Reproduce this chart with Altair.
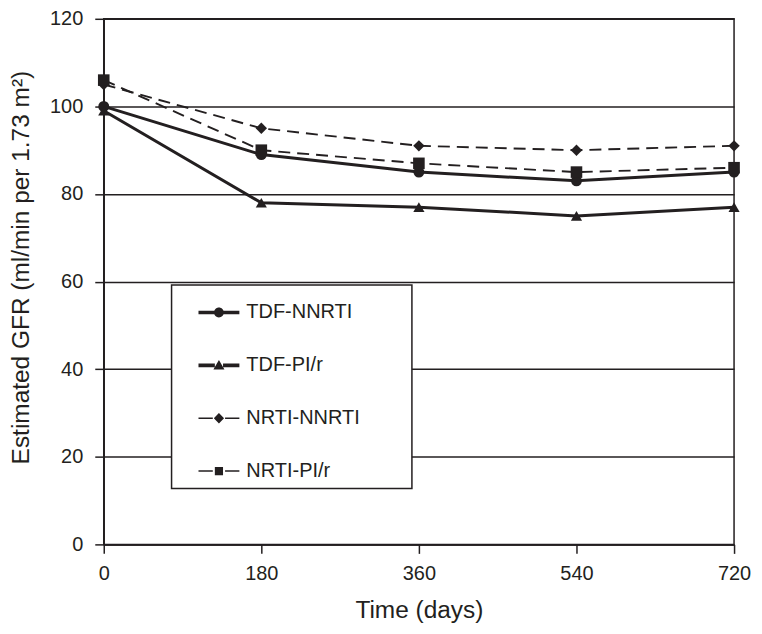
import altair as alt
import pandas as pd

days = [0, 180, 360, 540, 720]
series_names = ["TDF-NNRTI", "TDF-PI/r", "NRTI-NNRTI", "NRTI-PI/r"]
tdf_nnrti = [100, 89, 85, 83, 85]
tdf_pir = [99, 78, 77, 75, 77]
nrti_nnrti = [105, 95, 91, 90, 91]
nrti_pir = [106, 90, 87, 85, 86]

values = [tdf_nnrti, tdf_pir, nrti_nnrti, nrti_pir]
rows = []
for name, vals in zip(series_names, values):
    for d, v in zip(days, vals):
        rows.append({"day": d, "gfr": v, "series": name})
df = pd.DataFrame(rows)

FONT = "Liberation Sans"
INK = "#231f20"

x = alt.X("day:Q", scale=alt.Scale(domain=[0, 720], nice=False),
          axis=alt.Axis(values=days, title="Time (days)", grid=False))
y = alt.Y("gfr:Q", scale=alt.Scale(domain=[0, 120], nice=False),
          axis=alt.Axis(values=[0, 20, 40, 60, 80, 100, 120],
                        title="Estimated GFR (ml/min per 1.73 m²)", grid=True))

base = alt.Chart(df)

solid = base.transform_filter(alt.FieldOneOfPredicate(field="series", oneOf=series_names[:2])).mark_line(
    color=INK, strokeWidth=3).encode(x=x, y=y, detail="series:N")
dashed = base.transform_filter(alt.FieldOneOfPredicate(field="series", oneOf=series_names[2:])).mark_line(
    color=INK, strokeWidth=1.9, strokeDash=[12, 7]).encode(x=x, y=y, detail="series:N")

points = base.mark_point(filled=True, color=INK, opacity=1).encode(
    x=x, y=y,
    shape=alt.Shape("series:N", scale=alt.Scale(domain=series_names,
                    range=["circle", "triangle-up", "diamond", "square"]), legend=None),
    size=alt.Size("series:N", scale=alt.Scale(domain=series_names, range=[120, 135, 130, 90]),
                  legend=None),
)

# legend symbols: line segment + marker as custom paths
thick_l = "M-1,-0.09 H-0.2 V0.09 H-1 Z M0.2,-0.09 H1 V0.09 H0.2 Z "
thin_l_d = "M-1,-0.037 H-0.3 V0.037 H-1 Z M0.3,-0.037 H1 V0.037 H0.3 Z "
thin_l_s = "M-1,-0.037 H-0.3 V0.037 H-1 Z M0.3,-0.037 H1 V0.037 H0.3 Z "
circ = "M0.24,0 A0.24,0.24 0 1,1 -0.24,0 A0.24,0.24 0 1,1 0.24,0 Z"
tri = "M0,-0.26 L0.27,0.2 L-0.27,0.2 Z"
dia = "M0,-0.26 L0.25,0 L0,0.26 L-0.25,0 Z"
sq = "M-0.2,-0.2 H0.2 V0.2 H-0.2 Z"
legend_paths = [thick_l + circ, thick_l + tri, thin_l_d + dia, thin_l_s + sq]

pad = "\u2800\u2800\u2800"
legend_layer = base.mark_point(filled=True, color=INK, opacity=0).encode(
    x=x, y=y,
    shape=alt.Shape("series:N", scale=alt.Scale(domain=series_names, range=legend_paths),
                    sort=series_names,
                    legend=alt.Legend(title=None, orient="none", legendX=68, legendY=267,
                                      symbolSize=1681, symbolOpacity=1, symbolFillColor=INK,
                                      symbolStrokeWidth=0, symbolOffset=20, labelOffset=7,
                                      rowPadding=22, padding=7, strokeColor=INK,
                                      fillColor="white", labelFontSize=20, labelFont=FONT,
                                      labelColor=INK, labelExpr=f"datum.label + '{pad}'",
                                      labelLimit=400)),
)

chart = alt.layer(solid, dashed, points, legend_layer).resolve_scale(
    shape="independent", size="independent").properties(
    width=632, height=527,
    autosize=alt.AutoSizeParams(type="none"),
    padding={"left": 96, "top": 10, "right": 20, "bottom": 80},
).configure_view(stroke=INK, strokeWidth=1.5).configure_axis(
    domainColor=INK, domainWidth=1.5, tickColor=INK, tickWidth=1.5, tickSize=9,
    gridColor=INK, gridWidth=1.5, gridOpacity=1,
    labelFont=FONT, labelFontSize=20, labelColor=INK,
    titleFont=FONT, titleFontWeight="normal", titleColor=INK,
).configure_axisX(titlePadding=15, labelFlush=False, labelPadding=10, titleFontSize=24.5
).configure_axisY(titlePadding=16, labelPadding=12, titleFontSize=24.5, titleY=249
).configure_legend(strokeWidth=1.5)

chart.save("out.html", embed_options={"renderer": "svg", "actions": False})
